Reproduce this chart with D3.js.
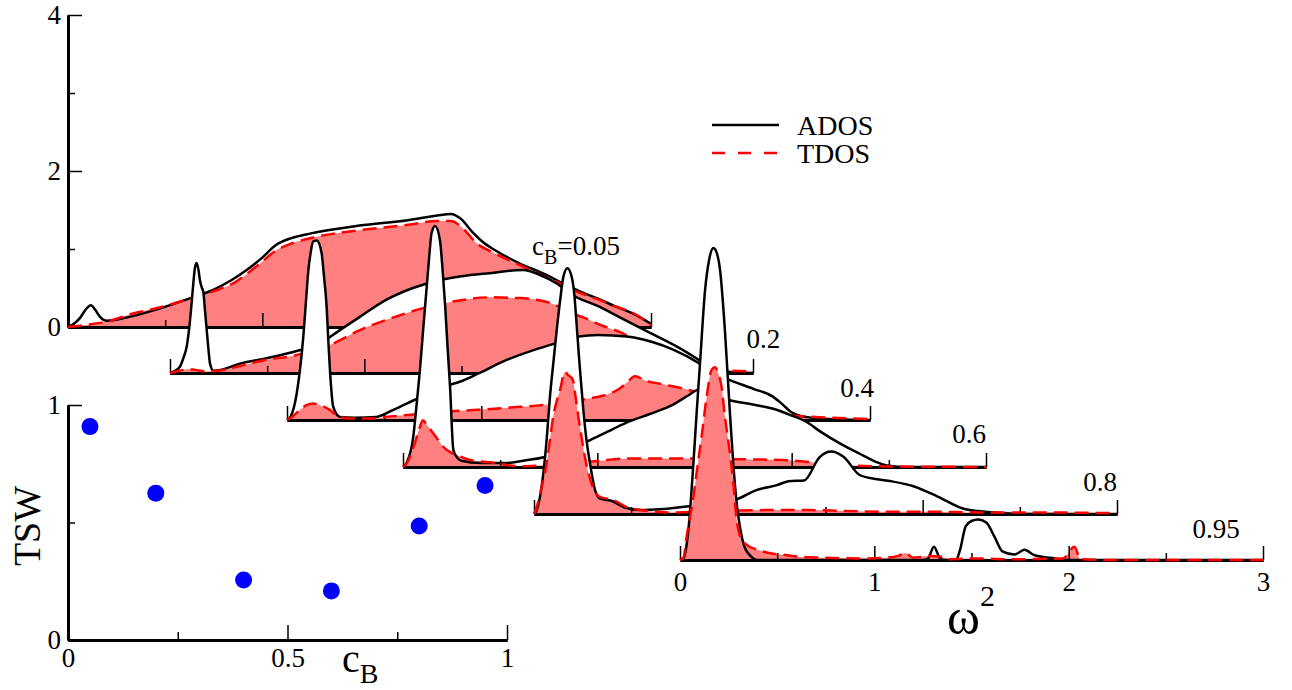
<!DOCTYPE html>
<html>
<head>
<meta charset="utf-8">
<script src="https://cdn.jsdelivr.net/npm/d3@7"></script>
<style>
  body { margin: 0; background: #fff; }
  svg { display: block; }
  svg text { font-family: "Liberation Serif", "Times New Roman", "DejaVu Serif", serif; }
</style>
</head>
<body>
<script>
// c_B values and two-step width (inset)
const cB = [0.05, 0.2, 0.4, 0.6, 0.8, 0.95];
const tsw = [0.908, 0.625, 0.255, 0.209, 0.485, 0.657];
const panelLabels = ["0.05", "0.2", "0.4", "0.6", "0.8", "0.95"];

// [omega^2, DOS]
const ados005 = [[0,0],[0.03,0.04],[0.06,0.11],[0.09,0.22],[0.118,0.28],[0.14,0.22],[0.165,0.13],[0.2,0.08],[0.3,0.12],[0.45,0.22],[0.63,0.37],[0.75,0.48],[0.84,0.6],[0.93,0.75],[1.0,0.89],[1.07,1.05],[1.15,1.14],[1.25,1.2],[1.5,1.3],[1.75,1.37],[1.9,1.43],[1.97,1.45],[2.02,1.39],[2.08,1.22],[2.13,1.1],[2.2,0.98],[2.32,0.82],[2.45,0.68],[2.53,0.58],[2.63,0.46],[2.73,0.36],[2.82,0.26],[2.9,0.18],[2.96,0.1],[3.0,0.04]];
const tdos005 = [[0,0],[0.1,0.03],[0.2,0.07],[0.33,0.17],[0.47,0.25],[0.61,0.35],[0.75,0.46],[0.85,0.56],[0.93,0.7],[1.0,0.84],[1.07,0.98],[1.15,1.07],[1.25,1.14],[1.5,1.24],[1.75,1.31],[1.9,1.36],[1.97,1.36],[2.03,1.27],[2.1,1.08],[2.2,0.94],[2.32,0.8],[2.45,0.65],[2.53,0.56],[2.63,0.44],[2.73,0.35],[2.82,0.26],[2.9,0.19],[2.96,0.1],[3.0,0.02]];

const ados02 = [[0,0],[0.02,0.02],[0.051,0.08],[0.07,0.2],[0.086,0.34],[0.1,0.6],[0.111,0.89],[0.12,1.15],[0.129,1.36],[0.137,1.41],[0.146,1.33],[0.154,1.19],[0.163,1.1],[0.172,1.03],[0.18,0.8],[0.189,0.55],[0.198,0.3],[0.206,0.12],[0.223,0.03],[0.26,0.04],[0.36,0.12],[0.497,0.19],[0.634,0.27],[0.771,0.38],[0.874,0.55],[0.977,0.72],[1.114,0.94],[1.25,1.09],[1.388,1.19],[1.5,1.24],[1.645,1.28],[1.817,1.32],[1.902,1.26],[1.988,1.15],[2.07,1.0],[2.2,0.86],[2.31,0.72],[2.45,0.54],[2.6,0.35],[2.72,0.17],[2.8,0.04],[2.9,0.01],[3,0]];
const tdos02 = [[0,0],[0.03,0.02],[0.07,0.04],[0.1,0.05],[0.13,0.04],[0.18,0.02],[0.25,0.03],[0.36,0.09],[0.497,0.17],[0.634,0.22],[0.72,0.28],[0.823,0.36],[0.977,0.55],[1.158,0.72],[1.33,0.85],[1.49,0.93],[1.645,0.97],[1.8,0.96],[1.954,0.9],[2.074,0.76],[2.14,0.7],[2.21,0.62],[2.31,0.53],[2.4,0.42],[2.5,0.32],[2.6,0.22],[2.7,0.14],[2.78,0.06],[2.88,0.03],[3,0.02]];

const ados04 = [[0,0],[0.02,0.05],[0.05,0.34],[0.067,0.65],[0.084,1.07],[0.097,1.5],[0.11,1.92],[0.122,2.15],[0.135,2.29],[0.153,2.3],[0.178,2.14],[0.19,1.85],[0.204,1.45],[0.212,1.05],[0.221,0.64],[0.238,0.17],[0.272,0.04],[0.35,0.03],[0.46,0.04],[0.547,0.13],[0.65,0.25],[0.8,0.42],[0.9,0.5],[0.98,0.59],[1.13,0.77],[1.25,0.88],[1.35,0.96],[1.5,1.07],[1.6,1.09],[1.75,1.07],[1.88,1.0],[1.99,0.9],[2.12,0.73],[2.2,0.6],[2.27,0.52],[2.4,0.4],[2.5,0.3],[2.55,0.2],[2.59,0.11],[2.67,0.04],[2.8,0.01],[3,0]];
const tdos04 = [[0,0],[0.02,0.03],[0.067,0.13],[0.1,0.19],[0.135,0.21],[0.17,0.19],[0.22,0.13],[0.26,0.05],[0.32,0.02],[0.45,0.02],[0.51,0.04],[0.6,0.06],[0.75,0.09],[0.84,0.11],[0.98,0.13],[1.15,0.16],[1.34,0.2],[1.45,0.24],[1.54,0.27],[1.65,0.33],[1.71,0.4],[1.75,0.48],[1.79,0.56],[1.85,0.5],[1.93,0.46],[2.09,0.37],[2.2,0.28],[2.3,0.2],[2.45,0.12],[2.585,0.06],[2.8,0.03],[3,0.01]];

const ados06 = [[0,0],[0.02,0.06],[0.053,0.39],[0.07,0.8],[0.087,1.24],[0.105,1.8],[0.122,2.31],[0.135,2.7],[0.147,3.0],[0.165,3.09],[0.19,2.91],[0.203,2.55],[0.216,2.1],[0.229,1.55],[0.242,1.03],[0.259,0.22],[0.276,0.13],[0.3,0.08],[0.4,0.05],[0.535,0.05],[0.62,0.08],[0.8,0.17],[0.96,0.34],[1.05,0.45],[1.15,0.57],[1.27,0.68],[1.39,0.8],[1.47,0.92],[1.52,0.99],[1.57,0.98],[1.62,0.9],[1.677,0.86],[1.8,0.8],[1.9,0.75],[2.0,0.66],[2.075,0.58],[2.15,0.45],[2.25,0.3],[2.35,0.17],[2.43,0.07],[2.49,0.02],[2.6,0],[3,0]];
const tdos06 = [[0,0],[0.02,0.05],[0.06,0.3],[0.085,0.5],[0.103,0.6],[0.12,0.55],[0.15,0.45],[0.18,0.35],[0.207,0.26],[0.25,0.18],[0.28,0.15],[0.33,0.1],[0.4,0.07],[0.48,0.05],[0.55,0.02],[0.634,0.01],[0.75,0.03],[0.85,0.05],[0.97,0.07],[1.165,0.11],[1.48,0.11],[1.7,0.1],[1.95,0.09],[2.15,0.05],[2.3,0.02],[2.44,0.01],[3,0]];

const ados08 = [[0,0],[0.014,0.05],[0.048,0.52],[0.065,0.95],[0.082,1.5],[0.1,1.95],[0.117,2.36],[0.135,2.75],[0.151,3.04],[0.172,3.15],[0.194,3.04],[0.208,2.8],[0.219,2.44],[0.235,1.9],[0.254,1.33],[0.27,0.95],[0.288,0.65],[0.314,0.31],[0.339,0.2],[0.408,0.16],[0.46,0.09],[0.55,0.05],[0.65,0.06],[0.8,0.1],[0.9,0.13],[1.035,0.18],[1.148,0.31],[1.25,0.37],[1.31,0.42],[1.39,0.43],[1.47,0.73],[1.53,0.8],[1.594,0.73],[1.676,0.5],[1.757,0.45],[1.838,0.42],[1.96,0.35],[2.08,0.22],[2.22,0.06],[2.37,0.02],[2.5,0],[3,0]];
const tdos08 = [[0,0],[0.014,0.09],[0.04,0.35],[0.065,0.65],[0.082,0.95],[0.099,1.25],[0.117,1.45],[0.134,1.59],[0.159,1.82],[0.176,1.78],[0.2,1.72],[0.214,1.5],[0.228,1.25],[0.245,0.98],[0.262,0.73],[0.296,0.39],[0.339,0.22],[0.408,0.18],[0.477,0.09],[0.55,0.05],[0.614,0.03],[0.7,0.02],[0.85,0.03],[1.0,0.04],[1.2,0.05],[1.4,0.05],[1.6,0.04],[1.8,0.03],[2.0,0.03],[2.3,0.02],[2.6,0.02],[3,0.01]];

const ados095 = [[0,0],[0.02,0.03],[0.043,0.38],[0.069,1.24],[0.086,1.9],[0.103,2.52],[0.129,3.46],[0.15,3.85],[0.172,4.0],[0.19,3.93],[0.206,3.72],[0.231,2.95],[0.257,1.88],[0.274,1.24],[0.29,0.77],[0.31,0.4],[0.33,0.18],[0.36,0.06],[0.4,0],[1.25,0],[1.276,0.02],[1.307,0.17],[1.338,0.02],[1.36,0],[1.42,0],[1.44,0.12],[1.47,0.43],[1.5,0.5],[1.535,0.52],[1.576,0.48],[1.618,0.3],[1.659,0.11],[1.72,0.07],[1.773,0.13],[1.825,0.06],[1.93,0.02],[2.0,0],[3,0]];
const tdos095 = [[0,0],[0.017,0.02],[0.034,0.3],[0.069,0.81],[0.09,1.2],[0.111,1.58],[0.137,2.09],[0.163,2.44],[0.18,2.47],[0.197,2.39],[0.214,2.22],[0.231,1.84],[0.25,1.5],[0.274,1.0],[0.29,0.55],[0.31,0.3],[0.34,0.2],[0.4,0.13],[0.48,0.08],[0.52,0.07],[0.62,0.04],[0.73,0.03],[0.93,0.02],[1.06,0.03],[1.12,0.05],[1.16,0.09],[1.2,0.03],[1.28,0.05],[1.35,0.04],[1.39,0.01],[1.5,0.02],[1.7,0.01],[1.97,0.02],[2.03,0.17],[2.06,0.01],[2.2,0],[3,0]];

const adosSets = [ados005, ados02, ados04, ados06, ados08, ados095];
const tdosSets = [tdos005, tdos02, tdos04, tdos06, tdos08, tdos095];

// layout: where each shifted panel's origin sits, and where its label goes
const panelOrigin = [[68, 327], [170, 373], [287, 420], [403, 467], [534, 514], [680, 560]];
const labelAt = [[2.84, 0.92], [3.14, 0.32], [3.02, 0.29], [3.0, 0.31], [3.0, 0.29], [2.88, 0.28]];

const W = 1292, H = 690;
const SERIF = '"Liberation Serif", "Times New Roman", "DejaVu Serif", serif';
const svg = d3.select("body").append("svg").attr("width", W).attr("height", H);

const x = d3.scaleLinear().domain([0, 3]).range([0, 583]);
const y = d3.scaleLinear().domain([0, 4]).range([0, -312]);

const area = d3.area().x(d => x(d[0])).y0(y(0)).y1(d => y(d[1])).curve(d3.curveMonotoneX);
const line = d3.line().x(d => x(d[0])).y(d => y(d[1])).curve(d3.curveMonotoneX);

const FS = 27;

function styleAxis(g, w) {
  g.attr("font-family", null);
  g.select(".domain").attr("stroke-width", w);
  g.selectAll(".tick line").attr("stroke-width", 1.5);
  g.selectAll(".tick text").attr("font-size", FS).attr("fill", "#000");
}

adosSets.forEach((ados, i) => {
  const tdos = tdosSets[i];
  const [ox, oy] = panelOrigin[i];
  const g = svg.append("g").attr("transform", `translate(${ox},${oy})`);

  g.append("path").attr("d", area(ados)).attr("fill", "#fff");
  g.append("path").attr("d", area(tdos)).attr("fill", "#ff8080");

  const last = i === adosSets.length - 1;
  g.append("g")
    .call(d3.axisBottom(x).tickValues([0.5, 1.5, 2.5]).tickSize(-7).tickSizeOuter(0).tickFormat(""))
    .call(a => styleAxis(a, 3));
  g.append("g")
    .call(d3.axisBottom(x).tickValues([0, 1, 2, 3]).tickSize(-14).tickSizeOuter(0).tickPadding(12)
      .tickFormat(last ? d3.format("d") : ""))
    .call(a => styleAxis(a, 3));

  if (i === 0) {
    g.append("g")
      .call(d3.axisLeft(y).tickValues([1, 3]).tickSize(-7).tickSizeOuter(0).tickFormat(""))
      .call(a => styleAxis(a, 3));
    g.append("g")
      .call(d3.axisLeft(y).tickValues([0, 2, 4]).tickSize(-14).tickSizeOuter(0).tickPadding(7).tickFormat(d3.format("d")))
      .call(a => styleAxis(a, 3));
  }

  g.append("path").attr("d", line(ados))
    .attr("fill", "none").attr("stroke", "#000").attr("stroke-width", 2.5).attr("stroke-linejoin", "round");
  g.append("path").attr("d", line(tdos))
    .attr("fill", "none").attr("stroke", "#ff0000").attr("stroke-width", 2.5)
    .attr("stroke-dasharray", "14,7").attr("stroke-linejoin", "round");

  const [lx, ly] = labelAt[i];
  const t = g.append("text").attr("x", x(lx)).attr("y", y(ly))
    .attr("text-anchor", "end").attr("font-size", FS);
  if (i === 0) {
    t.append("tspan").text("c");
    t.append("tspan").attr("font-size", 20).attr("dy", 9).text("B");
    t.append("tspan").attr("dy", -9).text("=" + panelLabels[i]);
  } else {
    t.text(panelLabels[i]);
  }
});

// omega^2 label
const wl = svg.append("text").attr("x", 947).attr("y", 634).attr("font-size", 50);
wl.append("tspan").text("ω");
wl.append("tspan").attr("font-size", 30).attr("dy", -28).text("2");

// legend
const legend = svg.append("g").attr("transform", "translate(712,0)");
legend.append("line").attr("x1", 0).attr("x2", 67).attr("y1", 125).attr("y2", 125)
  .attr("stroke", "#000").attr("stroke-width", 2.5);
legend.append("text").attr("x", 85).attr("y", 135).attr("font-size", 28).text("ADOS");
legend.append("line").attr("x1", 0).attr("x2", 67).attr("y1", 153).attr("y2", 153)
  .attr("stroke", "#ff0000").attr("stroke-width", 2.5).attr("stroke-dasharray", "13,13");
legend.append("text").attr("x", 85).attr("y", 163).attr("font-size", 28).text("TDOS");

// inset: TSW vs c_B
const xi = d3.scaleLinear().domain([0, 1]).range([68, 507]);
const yi = d3.scaleLinear().domain([0, 1]).range([640, 405]);
const inset = svg.append("g");

inset.append("g").attr("transform", `translate(0,${yi(0)})`)
  .call(d3.axisBottom(xi).tickValues([0.25, 0.75]).tickSize(-8).tickSizeOuter(0).tickFormat(""))
  .call(a => styleAxis(a, 3));
inset.append("g").attr("transform", `translate(0,${yi(0)})`)
  .call(d3.axisBottom(xi).tickValues([0, 0.5, 1]).tickSize(-15).tickSizeOuter(0).tickPadding(8).tickFormat(d3.format("")))
  .call(a => styleAxis(a, 3));
inset.append("g").attr("transform", `translate(${xi(0)},0)`)
  .call(d3.axisLeft(yi).tickValues([0.5]).tickSize(-7).tickSizeOuter(0).tickFormat(""))
  .call(a => styleAxis(a, 3));
inset.append("g").attr("transform", `translate(${xi(0)},0)`)
  .call(d3.axisLeft(yi).tickValues([0, 1]).tickSize(-14).tickSizeOuter(0).tickPadding(7).tickFormat(d3.format("d")))
  .call(a => styleAxis(a, 3));

inset.selectAll("circle").data(cB).join("circle")
  .attr("cx", d => xi(d)).attr("cy", (d, i) => yi(tsw[i])).attr("r", 8.5).attr("fill", "#0000ff");

const cl = inset.append("text").attr("x", 342).attr("y", 672).attr("font-size", 40);
cl.append("tspan").text("c");
cl.append("tspan").attr("font-size", 28).attr("dy", 11).text("B");

inset.append("text").attr("transform", "translate(40,526) rotate(-90)")
  .attr("text-anchor", "middle").attr("font-size", 38).text("TSW");

svg.selectAll("text").style("font-family", SERIF);
</script>
</body>
</html>
